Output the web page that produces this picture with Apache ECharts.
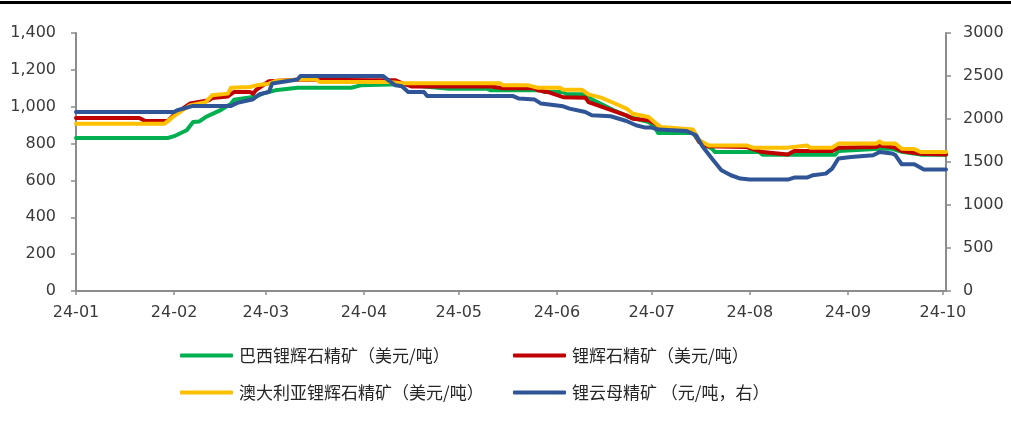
<!DOCTYPE html>
<html>
<head>
<meta charset="utf-8">
<script src="https://cdn.jsdelivr.net/npm/echarts@6/dist/echarts.min.js"></script>
<style>
html,body{margin:0;padding:0;background:#fff;}
#chart{width:1011px;height:426px;}
</style>
</head>
<body>
<div id="chart"></div>
<script>
const seriesNames = ['巴西锂辉石精矿（美元/吨）', '锂辉石精矿（美元/吨）', '澳大利亚锂辉石精矿（美元/吨）', '锂云母精矿 （元/吨，右）'];
const seriesColors = ['#00B050', '#C00000', '#FFC000', '#2F5597'];

const brazilData = [
['2024-01-01',830],['2024-01-30',830],['2024-02-01',840],['2024-02-05',872],['2024-02-07',917],['2024-02-09',920],['2024-02-11',944],['2024-02-14',968],['2024-02-16',984],['2024-02-19',1017],['2024-02-20',1038],['2024-02-27',1056],['2024-02-29',1071],['2024-03-04',1089],['2024-03-11',1103],['2024-03-28',1103],['2024-03-31',1116],['2024-04-09',1121],['2024-04-14',1121],['2024-04-20',1110],['2024-04-28',1098],['2024-05-10',1098],['2024-05-11',1089],['2024-05-27',1089],['2024-05-28',1080],['2024-06-03',1080],['2024-06-04',1067],['2024-06-10',1067],['2024-06-12',1040],['2024-06-19',980],['2024-06-24',944],['2024-06-30',917],['2024-07-02',890],['2024-07-03',857],['2024-07-14',857],['2024-07-16',810],['2024-07-20',772],['2024-07-21',754],['2024-08-04',754],['2024-08-05',740],['2024-08-28',740],['2024-08-29',760],['2024-09-11',772],['2024-09-15',772],['2024-09-18',755],['2024-09-24',740],['2024-10-02',740]
];
const spodumeneData = [
['2024-01-01',939],['2024-01-21',939],['2024-01-23',922],['2024-01-30',922],['2024-02-01',957],['2024-02-06',1017],['2024-02-12',1035],['2024-02-13',1047],['2024-02-18',1056],['2024-02-20',1080],['2024-02-25',1080],['2024-02-26',1071],['2024-02-27',1092],['2024-03-02',1138],['2024-03-11',1147],['2024-04-03',1143],['2024-04-11',1143],['2024-04-13',1128],['2024-04-16',1110],['2024-05-11',1110],['2024-05-15',1100],['2024-05-25',1100],['2024-05-26',1089],['2024-05-29',1080],['2024-06-03',1052],['2024-06-10',1049],['2024-06-11',1025],['2024-06-20',971],['2024-06-23',953],['2024-06-25',935],['2024-06-30',926],['2024-07-03',899],['2024-07-04',881],['2024-07-14',872],['2024-07-16',808],['2024-07-18',785],['2024-07-31',781],['2024-08-05',754],['2024-08-13',741],['2024-08-15',760],['2024-08-27',760],['2024-08-29',778],['2024-09-10',781],['2024-09-11',790],['2024-09-16',778],['2024-09-18',760],['2024-09-24',745],['2024-10-02',741]
];
const australiaData = [
['2024-01-01',908],['2024-01-29',908],['2024-01-31',935],['2024-02-02',962],['2024-02-06',1007],['2024-02-11',1025],['2024-02-13',1062],['2024-02-18',1071],['2024-02-19',1103],['2024-02-25',1107],['2024-02-27',1116],['2024-03-02',1125],['2024-03-04',1139],['2024-03-11',1147],['2024-03-17',1147],['2024-03-18',1134],['2024-04-09',1134],['2024-04-13',1128],['2024-05-14',1128],['2024-05-15',1116],['2024-05-23',1116],['2024-05-26',1103],['2024-06-02',1103],['2024-06-03',1092],['2024-06-09',1092],['2024-06-11',1067],['2024-06-15',1049],['2024-06-19',1020],['2024-06-23',990],['2024-06-25',962],['2024-06-30',944],['2024-07-03',899],['2024-07-04',890],['2024-07-14',876],['2024-07-16',818],['2024-07-19',790],['2024-07-31',790],['2024-08-02',778],['2024-08-13',778],['2024-08-19',790],['2024-08-20',778],['2024-08-27',778],['2024-08-29',800],['2024-09-10',800],['2024-09-11',812],['2024-09-12',800],['2024-09-16',800],['2024-09-18',772],['2024-09-22',770],['2024-09-24',754],['2024-10-02',754]
];
const lepidoliteData = [
['2024-01-01',2082],['2024-02-01',2082],['2024-02-02',2102],['2024-02-07',2152],['2024-02-19',2152],['2024-02-21',2187],['2024-02-26',2230],['2024-02-28',2288],['2024-03-02',2315],['2024-03-03',2412],['2024-03-11',2459],['2024-03-12',2501],['2024-04-07',2501],['2024-04-09',2443],['2024-04-11',2392],['2024-04-13',2381],['2024-04-15',2315],['2024-04-20',2315],['2024-04-21',2268],['2024-05-18',2268],['2024-05-20',2238],['2024-05-25',2226],['2024-05-27',2179],['2024-06-03',2148],['2024-06-05',2121],['2024-06-10',2082],['2024-06-12',2043],['2024-06-18',2032],['2024-06-23',1977],['2024-06-26',1927],['2024-06-29',1900],['2024-07-01',1900],['2024-07-03',1877],['2024-07-12',1861],['2024-07-15',1811],['2024-07-17',1683],['2024-07-20',1540],['2024-07-23',1404],['2024-07-26',1346],['2024-07-29',1307],['2024-08-01',1296],['2024-08-13',1296],['2024-08-15',1319],['2024-08-19',1319],['2024-08-21',1346],['2024-08-25',1365],['2024-08-27',1423],['2024-08-29',1540],['2024-09-02',1559],['2024-09-09',1578],['2024-09-11',1617],['2024-09-15',1598],['2024-09-16',1580],['2024-09-18',1474],['2024-09-22',1474],['2024-09-25',1412],['2024-10-02',1412]
];

const xMin = '2024-01-01';
const xMax = '2024-10-02';
const leftTicks = {min: 0, max: 1400, interval: 200};
const rightTicks = {min: 0, max: 3000, interval: 500};

const seriesData = [brazilData, spodumeneData, australiaData, lepidoliteData];
const yIndex = [0, 0, 0, 1];

const axisGray = '#8C8C8C';
const labelColor = '#3A3A3A';
const numFont = 'DejaVu Sans';
const cjkFont = 'Noto Sans CJK SC';

const legendPos = [
  {left: 180, top: 347},
  {left: 513, top: 347},
  {left: 180, top: 384},
  {left: 513, top: 384}
];

const chart = echarts.init(document.getElementById('chart'), null, {renderer: 'canvas'});

const option = {
  animation: false,
  backgroundColor: '#fff',
  graphic: [{
    type: 'rect', left: 0, top: 1, shape: {width: 1011, height: 3}, style: {fill: '#000'}
  }],
  grid: {left: 76, right: 65, top: 33, bottom: 135, containLabel: false, outerBoundsMode: 'none'},
  legend: seriesNames.map((name, k) => ({
    data: [name],
    left: legendPos[k].left,
    top: legendPos[k].top,
    padding: 0,
    orient: 'horizontal',
    icon: 'roundRect',
    itemWidth: 53,
    itemHeight: 4,
    itemGap: 7,
    textStyle: {fontFamily: cjkFont, fontSize: 17, color: '#262626', padding: [0, 0, 0, 1]},
    selectedMode: false
  })),
  xAxis: {
    type: 'time',
    min: xMin,
    max: xMax,
    splitNumber: 9,
    minInterval: 28 * 86400000,
    maxInterval: 31 * 86400000,
    axisLine: {show: true, lineStyle: {color: axisGray, width: 2}},
    axisTick: {show: true, length: 4, lineStyle: {color: axisGray, width: 1.5}},
    splitLine: {show: false},
    axisLabel: {
      formatter: '{yy}-{MM}',
      color: labelColor,
      fontFamily: numFont,
      fontSize: 16,
      margin: 14,
      hideOverlap: false
    }
  },
  yAxis: [{
    type: 'value',
    min: leftTicks.min, max: leftTicks.max, interval: leftTicks.interval,
    position: 'left',
    axisLine: {show: true, lineStyle: {color: axisGray, width: 2}},
    axisTick: {show: true, length: 5, lineStyle: {color: axisGray, width: 1.5}},
    splitLine: {show: false},
    axisLabel: {
      formatter: v => v.toLocaleString('en-US'),
      color: labelColor, fontFamily: numFont, fontSize: 16, margin: 20
    }
  }, {
    type: 'value',
    min: rightTicks.min, max: rightTicks.max, interval: rightTicks.interval,
    position: 'right',
    axisLine: {show: true, lineStyle: {color: axisGray, width: 2}},
    axisTick: {show: true, length: 5, lineStyle: {color: axisGray, width: 1.5}},
    splitLine: {show: false},
    axisLabel: {
      formatter: v => String(v),
      color: labelColor, fontFamily: numFont, fontSize: 16, margin: 17
    }
  }],
  series: seriesData.map((d, i) => ({
    name: seriesNames[i],
    type: 'line',
    yAxisIndex: yIndex[i],
    data: d,
    showSymbol: false,
    symbol: 'none',
    color: seriesColors[i],
    lineStyle: {color: seriesColors[i], width: 4, join: 'round', cap: 'round'},
    z: 2 + i
  }))
};
chart.setOption(option);
</script>
</body>
</html>
